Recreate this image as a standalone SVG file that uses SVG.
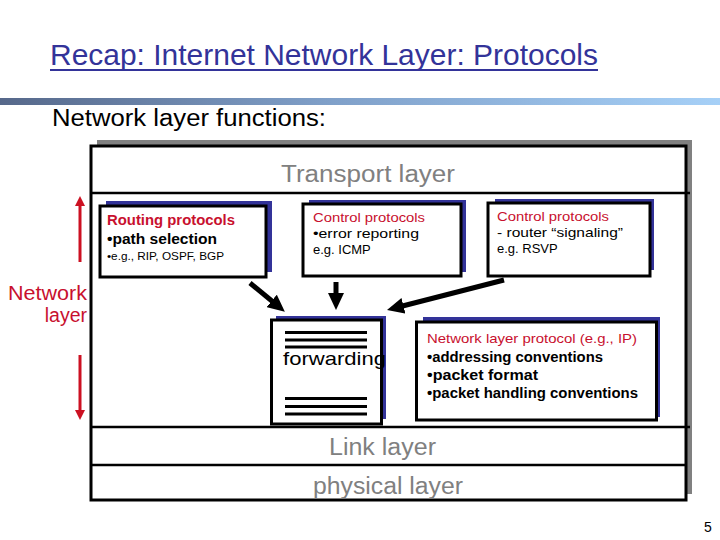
<svg xmlns="http://www.w3.org/2000/svg" width="720" height="540" viewBox="0 0 720 540">
<defs>
<linearGradient id="bar" x1="0" y1="0" x2="1" y2="0">
<stop offset="0" stop-color="#56688a"/>
<stop offset="0.45" stop-color="#7f9fc8"/>
<stop offset="1" stop-color="#a6d0f7"/>
</linearGradient>
<marker id="blackHead" markerUnits="userSpaceOnUse" markerWidth="17" markerHeight="16" viewBox="0 0 17 16" refX="1" refY="8" orient="auto">
<path d="M0,0 L17,8 L0,16 z" fill="#000"/>
</marker>
<marker id="redHead" markerUnits="userSpaceOnUse" markerWidth="10" markerHeight="10" viewBox="0 0 10 10" refX="1" refY="5" orient="auto">
<path d="M0,0 L10,5 L0,10 z" fill="#cc1122"/>
</marker>
</defs>
<style>
text{font-family:"Liberation Sans","DejaVu Sans",Arial,sans-serif;}
.shadow{fill:#333399;}
.box{fill:#fff;stroke:#000;stroke-width:3;}
.red{fill:#c8102e;}
.blk{fill:#000;}
.gray{fill:#808080;font-size:23px;}
.sep{stroke:#000;stroke-width:2.5;}
.conn{stroke:#000;stroke-width:5;fill:none;}
.rconn{stroke:#cc1122;stroke-width:3;fill:none;}
.fl{stroke:#000;stroke-width:3;}
</style>
<rect width="720" height="540" fill="#fff"/>

<g id="title">
<text x="50" y="65" font-size="29" fill="#333399" textLength="548" lengthAdjust="spacingAndGlyphs">Recap: Internet Network Layer: Protocols</text>
<line x1="50" y1="70" x2="598" y2="70" stroke="#333399" stroke-width="2"/>
</g>
<rect x="0" y="98" width="720" height="7" fill="url(#bar)"/>
<text x="52" y="126" font-size="23" fill="#000" textLength="274" lengthAdjust="spacingAndGlyphs">Network layer functions:</text>

<g id="stack">
<rect x="97" y="140" width="595" height="354" fill="#808080"/>
<rect x="91" y="146" width="595" height="354" fill="#fff" stroke="#000" stroke-width="3"/>
<line class="sep" x1="91" y1="193" x2="690" y2="193"/>
<line class="sep" x1="91" y1="427" x2="690" y2="427"/>
<line class="sep" x1="91" y1="465" x2="686" y2="465"/>
</g>
<g id="transport"><text class="gray" x="281" y="182" textLength="174" lengthAdjust="spacingAndGlyphs">Transport layer</text></g>
<g id="link"><text class="gray" x="329" y="455" textLength="107" lengthAdjust="spacingAndGlyphs">Link layer</text></g>
<g id="physical"><text class="gray" x="313" y="494" textLength="150" lengthAdjust="spacingAndGlyphs">physical layer</text></g>

<g id="routing">
<rect class="shadow" x="106" y="201" width="166" height="71"/>
<rect class="box" x="100" y="206" width="166" height="71"/>
<text class="red" x="107" y="225" font-size="14.5" font-weight="bold" textLength="128" lengthAdjust="spacingAndGlyphs">Routing protocols</text>
<text class="blk" x="107" y="244" font-size="14.5" font-weight="bold" textLength="110" lengthAdjust="spacingAndGlyphs">•path selection</text>
<text class="blk" x="107" y="260" font-size="10.5" textLength="117" lengthAdjust="spacingAndGlyphs">•e.g., RIP, OSPF, BGP</text>
</g>

<g id="control1">
<rect class="shadow" x="309" y="200" width="157" height="72"/>
<rect class="box" x="303" y="204" width="158" height="72"/>
<text class="red" x="313" y="222" font-size="13" textLength="112" lengthAdjust="spacingAndGlyphs">Control protocols</text>
<text class="blk" x="313" y="238" font-size="13" textLength="106" lengthAdjust="spacingAndGlyphs">•error reporting</text>
<text class="blk" x="313" y="254" font-size="13">e.g. ICMP</text>
</g>

<g id="control2">
<rect class="shadow" x="495" y="199" width="159" height="71"/>
<rect class="box" x="488" y="203" width="162" height="73"/>
<text class="red" x="497" y="221" font-size="13" textLength="112" lengthAdjust="spacingAndGlyphs">Control protocols</text>
<text class="blk" x="497" y="237" font-size="13" textLength="126" lengthAdjust="spacingAndGlyphs">- router “signaling”</text>
<text class="blk" x="497" y="253" font-size="13">e.g. RSVP</text>
</g>

<g id="forwarding">
<rect class="shadow" x="276" y="316" width="110" height="103"/>
<rect class="box" x="271.5" y="320" width="110" height="104"/>
<line class="fl" x1="285" y1="332.5" x2="367" y2="332.5"/>
<line class="fl" x1="285" y1="340" x2="367" y2="340"/>
<line class="fl" x1="285" y1="347" x2="367" y2="347"/>
<line class="fl" x1="285" y1="398.5" x2="367" y2="398.5"/>
<line class="fl" x1="285" y1="406.5" x2="367" y2="406.5"/>
<line class="fl" x1="285" y1="414" x2="367" y2="414"/>
<text class="blk" x="283" y="365" font-size="19" textLength="103" lengthAdjust="spacingAndGlyphs">forwarding</text>
</g>

<g id="ipproto">
<rect class="shadow" x="423" y="317" width="237" height="100"/>
<rect class="box" x="416.5" y="322" width="240" height="98"/>
<text class="red" x="427" y="343" font-size="13.5" textLength="210" lengthAdjust="spacingAndGlyphs">Network layer protocol (e.g., IP)</text>
<text class="blk" x="427" y="362" font-size="14" font-weight="bold" textLength="176" lengthAdjust="spacingAndGlyphs">•addressing conventions</text>
<text class="blk" x="427" y="380" font-size="14" font-weight="bold" textLength="111" lengthAdjust="spacingAndGlyphs">•packet format</text>
<text class="blk" x="427" y="398" font-size="14" font-weight="bold" textLength="211" lengthAdjust="spacingAndGlyphs">•packet handling conventions</text>
</g>

<g id="netlayer">
<text class="red" x="8" y="300" font-size="19.5" textLength="79" lengthAdjust="spacingAndGlyphs">Network</text>
<text class="red" x="87" y="322" font-size="19.5" text-anchor="end">layer</text>
</g>

<g id="connectors">
<line class="conn" x1="250" y1="283" x2="272.5" y2="301.5" marker-end="url(#blackHead)"/>
<line class="conn" x1="336" y1="282" x2="336" y2="294" marker-end="url(#blackHead)"/>
<line class="conn" x1="504" y1="280" x2="402.5" y2="306" marker-end="url(#blackHead)"/>
<line class="rconn" x1="80" y1="262" x2="80" y2="205" marker-end="url(#redHead)"/>
<line class="rconn" x1="80" y1="355" x2="80" y2="411" marker-end="url(#redHead)"/>
</g>

<text x="704" y="532" font-size="14" fill="#000" font-family="DejaVu Sans, sans-serif">5</text>
</svg>
